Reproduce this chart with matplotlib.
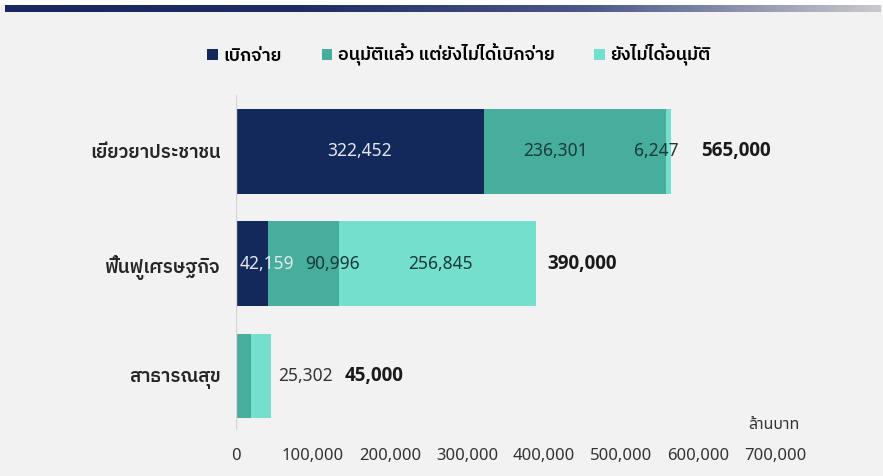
import numpy as np
import matplotlib
matplotlib.use("Agg")
import matplotlib.pyplot as plt
from matplotlib.colors import LinearSegmentedColormap

plt.rcParams['font.family'] = ['Noto Sans Thai', 'Noto Sans', 'DejaVu Sans']
thai_bold = ['IBM Plex Sans Thai', 'Noto Sans Thai', 'DejaVu Sans']
num_bold = ['Open Sans', 'Lato', 'DejaVu Sans']

# ข้อมูล (ล้านบาท)
categories = ["เยียวยาประชาชน", "ฟื้นฟูเศรษฐกิจ", "สาธารณสุข"]
series_names = ["เบิกจ่าย", "อนุมัติแล้ว แต่ยังไม่ได้เบิกจ่าย", "ยังไม่ได้อนุมัติ"]
disbursed = [322452, 42159, 0]
approved = [236301, 90996, 19698]
not_approved = [6247, 256845, 25302]
totals = [565000, 390000, 45000]
x_ticks = [0, 100000, 200000, 300000, 400000, 500000, 600000, 700000]

# ตำแหน่งป้ายตัวเลข (หน่วยแกน x) -- วางเองแบบในภาพต้นฉบับ
lbl_disb_x = [161000, 40000]
lbl_appr_x = [414500, 125500]
lbl_notap_x = [545500, 265500, 90500]
lbl_total_x = [603500, 404000, 141000]

colors = ["#13295b", "#47ad9c", "#74dfcd"]
bg = "#f2f2f2"

fig = plt.figure(figsize=(8.83, 4.76), dpi=100, facecolor=bg)

# แถบหัวกระดาษไล่สี
hdr = fig.add_axes([5 / 883, 1 - 12 / 476, 876 / 883, 7 / 476])
cmap = LinearSegmentedColormap.from_list("hdr", ["#172860", "#1d2d64", "#4b5889", "#c9c9cd"], N=256)
hdr.imshow(np.linspace(0, 1, 256)[None, :], aspect="auto", cmap=cmap)
hdr.axis("off")
fig.patches.append(plt.Rectangle((0, 1 - 5 / 476), 1, 5 / 476, transform=fig.transFigure,
                                 facecolor="white", edgecolor="none"))

ax = fig.add_axes([236 / 883, 1 - 430 / 476, 539 / 883, 335 / 476])
ax.set_facecolor(bg)
y = np.arange(len(categories))
h = 0.755
left2 = np.array(disbursed)
left3 = left2 + np.array(approved)
b1 = ax.barh(y, disbursed, height=h, color=colors[0], label=series_names[0])
b2 = ax.barh(y, approved, left=left2, height=h, color=colors[1], label=series_names[1])
b3 = ax.barh(y, not_approved, left=left3, height=h, color=colors[2], label=series_names[2])

ax.set_xlim(0, 700000)
ax.set_ylim(2.48, -0.5)
ax.axvline(0, color="#d6d6d6", lw=1)
for s in ax.spines.values():
    s.set_visible(False)

ax.set_xticks(x_ticks)
ax.set_xticklabels([f"{v:,}" for v in x_ticks], fontsize=12, color="#333333")
ax.set_yticks(y)
ax.set_yticklabels(categories, fontsize=13.5, fontweight="semibold", color="#262626", family=thai_bold)
ax.tick_params(axis="x", length=0, pad=13)
ax.tick_params(axis="y", length=0, pad=11)

# ป้ายตัวเลข
for i, xv in enumerate(lbl_disb_x):
    ax.text(xv, y[i], f"{disbursed[i]:,}", ha="center", va="center", fontsize=12.5, color="#e6e8ee")
for i, xv in enumerate(lbl_appr_x):
    ax.text(xv, y[i], f"{approved[i]:,}", ha="center", va="center", fontsize=12.5, color="#173a38")
for i, xv in enumerate(lbl_notap_x):
    ax.text(xv, y[i], f"{not_approved[i]:,}", ha="center", va="center", fontsize=12.5,
            color="#173a38" if i < 2 else "#333333")
for i, xv in enumerate(lbl_total_x):
    ax.text(xv, y[i], f"{totals[i]:,}", ha="left", va="center", fontsize=13.5,
            fontweight="bold", color="#1a1a1a", family=num_bold)

fig.text(774 / 883, 1 - 425 / 476, "ล้านบาท", ha="center", va="center", fontsize=11.5, color="#333333")

fig.legend(handles=[b1, b2, b3], loc="center", bbox_to_anchor=(459 / 883, 1 - 55 / 476), ncol=3,
           frameon=False, handlelength=0.6, handleheight=0.6, handletextpad=0.3,
           columnspacing=2.2, prop={"family": thai_bold, "weight": "semibold", "size": 13})

fig.savefig("out.png", dpi=100, facecolor=bg)
